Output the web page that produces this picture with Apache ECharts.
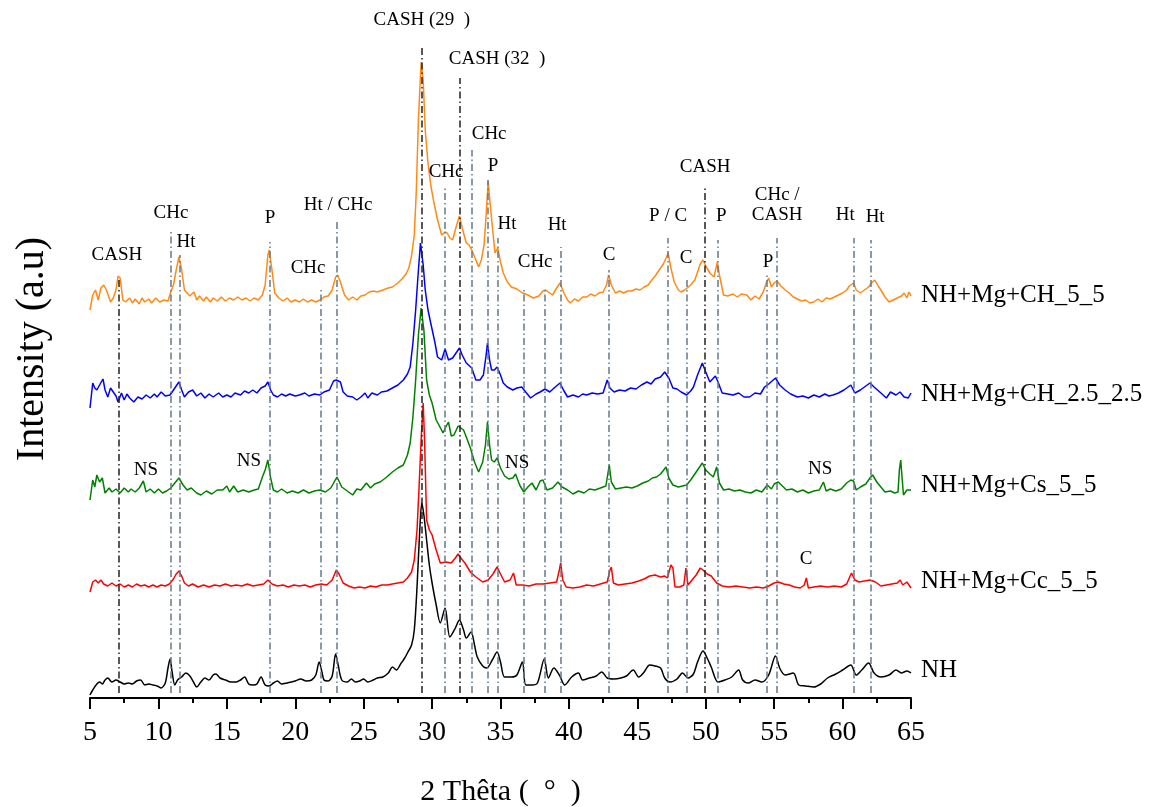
<!DOCTYPE html>
<html><head><meta charset="utf-8">
<script src="https://cdn.jsdelivr.net/npm/echarts@6/dist/echarts.min.js"></script>
<style>html,body{margin:0;padding:0;background:#fff}#c{width:1150px;height:807px}</style>
</head><body><div id="c"></div>
<script>
// ---- DATA (2θ, stacked intensity in a.u.) ----
const seriesNames = ['NH+Mg+CH_5_5', 'NH+Mg+CH_2.5_2.5', 'NH+Mg+Cs_5_5', 'NH+Mg+Cc_5_5', 'NH'];
const seriesColors = ['#ff8a14', '#0000ff', '#008000', '#ff0000', '#000000'];

const ch55 = [[5.0,388],[5.2,403],[5.4,408],[5.6,398],[5.8,410],[6.0,413],[6.2,408],[6.5,396],[6.7,400],[6.9,408],[7.05,422],[7.2,420],[7.4,398],[7.6,396],[7.9,400],[8.1,395],[8.3,399],[8.6,394],[8.8,400],[9.0,396],[9.3,399],[9.5,395],[9.8,400],[10.1,396],[10.4,398],[10.7,397],[10.9,406],[11.1,413],[11.3,428],[11.5,441],[11.7,428],[11.9,408],[12.1,405],[12.3,402],[12.6,406],[12.8,398],[13.0,402],[13.3,397],[13.5,401],[13.8,396],[14.0,400],[14.3,397],[14.6,401],[14.9,397],[15.2,400],[15.5,398],[15.8,401],[16.1,398],[16.4,400],[16.7,397],[17.0,400],[17.3,398],[17.6,403],[17.8,413],[18.0,443],[18.1,448],[18.3,428],[18.5,405],[18.8,400],[19.1,397],[19.4,400],[19.7,396],[20.0,398],[20.3,396],[20.6,399],[20.9,396],[21.2,398],[21.5,396],[21.8,398],[22.1,401],[22.4,402],[22.7,408],[22.95,421],[23.1,423],[23.3,416],[23.6,403],[23.9,398],[24.2,401],[24.5,398],[24.8,402],[25.1,403],[25.4,406],[25.7,407],[26.0,406],[26.4,408],[26.8,410],[27.1,411],[27.5,415],[27.8,419],[28.1,424],[28.3,430],[28.5,442],[28.7,463],[28.85,508],[29.0,578],[29.2,636],[29.35,618],[29.5,568],[29.7,535],[29.9,513],[30.1,498],[30.4,478],[30.7,463],[30.95,466],[31.1,465],[31.3,460],[31.5,458],[31.8,473],[32.0,482],[32.2,470],[32.5,455],[32.7,453],[32.9,448],[33.2,438],[33.4,431],[33.6,438],[33.8,453],[33.95,483],[34.1,517],[34.25,493],[34.45,465],[34.6,445],[34.8,450],[35.0,436],[35.2,425],[35.5,416],[35.8,411],[36.2,409],[36.6,405],[37.0,403],[37.4,400],[37.8,402],[38.1,407],[38.3,408],[38.6,405],[38.8,403],[39.1,410],[39.35,415],[39.6,406],[39.9,398],[40.1,395],[40.4,399],[40.7,397],[41.0,401],[41.3,401],[41.6,404],[41.9,402],[42.2,405],[42.5,406],[42.75,413],[42.9,423],[43.1,413],[43.4,405],[43.7,407],[44.0,405],[44.3,407],[44.6,407],[44.9,409],[45.2,408],[45.5,411],[45.8,413],[46.0,417],[46.3,422],[46.6,428],[46.9,434],[47.1,440],[47.25,445],[47.45,430],[47.7,416],[48.0,408],[48.2,406],[48.45,408],[48.65,410],[48.9,413],[49.2,418],[49.4,426],[49.6,434],[49.8,438],[50.0,432],[50.3,425],[50.6,421],[50.85,436],[51.0,423],[51.3,403],[51.6,402],[52.0,404],[52.3,401],[52.6,404],[53.0,403],[53.3,398],[53.6,402],[53.9,399],[54.2,406],[54.45,416],[54.6,420],[54.8,411],[55.0,415],[55.2,417],[55.5,412],[55.8,408],[56.1,405],[56.4,401],[56.7,399],[57.0,397],[57.3,398],[57.6,395],[57.9,396],[58.2,399],[58.5,396],[58.8,400],[59.1,399],[59.4,401],[59.7,403],[60.0,405],[60.3,408],[60.5,412],[60.8,415],[61.0,408],[61.3,405],[61.6,408],[61.9,411],[62.1,415],[62.35,418],[62.6,412],[62.8,408],[63.1,401],[63.4,396],[63.7,398],[64.0,400],[64.3,402],[64.5,405],[64.7,400],[64.85,406],[65.0,402]];

const ch2525 = [[5.0,290],[5.2,315],[5.35,310],[5.5,308],[5.7,313],[5.95,319],[6.1,308],[6.3,301],[6.5,310],[6.7,306],[6.9,302],[7.05,296],[7.3,305],[7.5,298],[7.7,304],[7.9,300],[8.2,296],[8.5,301],[8.8,299],[9.1,303],[9.4,300],[9.7,304],[9.9,301],[10.2,306],[10.5,302],[10.85,303],[11.1,308],[11.35,313],[11.5,316],[11.7,308],[11.9,301],[12.2,306],[12.5,308],[12.8,302],[13.1,305],[13.4,300],[13.7,304],[14.0,301],[14.4,305],[14.7,301],[15.0,303],[15.3,301],[15.6,305],[16.0,303],[16.3,307],[16.6,305],[16.9,308],[17.2,305],[17.5,310],[17.8,312],[18.0,316],[18.2,308],[18.4,303],[18.7,301],[19.0,304],[19.3,302],[19.6,304],[20.0,302],[20.3,303],[20.7,305],[21.0,302],[21.4,304],[21.8,303],[22.1,306],[22.5,308],[22.8,317],[23.0,318],[23.3,316],[23.5,306],[23.8,302],[24.2,301],[24.5,298],[24.8,301],[25.1,305],[25.3,300],[25.6,305],[26.0,303],[26.3,306],[26.7,307],[27.1,310],[27.5,313],[27.9,318],[28.2,324],[28.4,331],[28.6,355],[28.8,388],[28.95,418],[29.15,455],[29.35,433],[29.5,408],[29.7,388],[29.9,375],[30.2,356],[30.4,341],[30.7,338],[30.95,349],[31.2,338],[31.5,340],[31.8,346],[32.0,350],[32.2,343],[32.5,335],[32.9,330],[33.2,318],[33.5,318],[33.75,323],[33.95,343],[34.05,355],[34.2,338],[34.35,328],[34.55,328],[34.75,331],[35.0,323],[35.2,315],[35.5,311],[35.9,308],[36.2,310],[36.55,311],[36.9,305],[37.2,300],[37.6,304],[37.9,306],[38.25,309],[38.6,306],[39.0,311],[39.35,315],[39.6,308],[39.9,301],[40.3,303],[40.7,301],[41.0,304],[41.3,303],[41.7,305],[42.1,304],[42.5,305],[42.8,318],[43.0,310],[43.3,306],[43.7,308],[44.1,307],[44.5,310],[44.9,309],[45.3,313],[45.7,316],[46.0,314],[46.3,319],[46.7,321],[47.0,326],[47.3,320],[47.6,310],[47.9,309],[48.2,306],[48.6,303],[48.9,307],[49.1,311],[49.4,323],[49.75,335],[50.0,326],[50.3,316],[50.7,322],[50.9,316],[51.2,305],[51.6,304],[52.0,303],[52.4,305],[52.8,301],[53.2,301],[53.6,305],[54.0,304],[54.3,311],[54.6,314],[55.1,320],[55.4,313],[55.8,308],[56.2,304],[56.7,301],[57.1,302],[57.5,300],[57.9,303],[58.3,301],[58.7,304],[59.0,302],[59.3,303],[59.7,305],[60.1,308],[60.6,313],[60.9,305],[61.3,308],[61.6,311],[62.0,315],[62.3,311],[62.8,305],[63.2,300],[63.5,306],[63.9,303],[64.2,306],[64.5,301],[64.8,300],[65.0,305]];

const cs55 = [[5.0,198],[5.2,218],[5.35,211],[5.5,223],[5.7,216],[5.9,220],[6.1,205],[6.4,210],[6.6,206],[6.9,209],[7.2,205],[7.5,210],[7.8,206],[8.0,209],[8.3,206],[8.6,210],[8.9,217],[9.1,206],[9.4,209],[9.7,205],[10.0,209],[10.3,205],[10.6,207],[10.9,210],[11.2,215],[11.5,220],[11.8,213],[12.1,208],[12.4,210],[12.8,205],[13.1,203],[13.5,207],[13.9,204],[14.3,208],[14.7,208],[15.0,212],[15.2,206],[15.5,212],[15.8,206],[16.2,208],[16.6,206],[17.0,208],[17.3,209],[17.6,221],[17.8,228],[18.0,238],[18.2,220],[18.4,208],[18.7,206],[19.0,209],[19.4,205],[19.8,207],[20.2,205],[20.6,208],[21.0,205],[21.4,207],[21.8,208],[22.2,206],[22.6,210],[23.05,221],[23.4,211],[23.8,207],[24.2,203],[24.5,209],[24.8,208],[25.2,215],[25.5,210],[25.8,214],[26.2,216],[26.6,220],[27.1,226],[27.5,230],[27.9,233],[28.2,243],[28.4,255],[28.6,281],[28.8,318],[29.0,363],[29.2,390],[29.4,368],[29.6,318],[29.8,303],[30.0,295],[30.3,278],[30.5,273],[30.8,265],[31.0,271],[31.2,276],[31.4,262],[31.6,263],[31.9,272],[32.0,273],[32.3,268],[32.5,261],[32.8,250],[33.1,236],[33.4,226],[33.7,236],[33.9,253],[34.05,276],[34.2,253],[34.35,238],[34.55,236],[34.75,240],[35.0,230],[35.3,222],[35.6,219],[35.9,220],[36.1,224],[36.4,213],[36.7,206],[37.0,211],[37.3,215],[37.6,208],[37.9,217],[38.1,218],[38.4,208],[38.8,210],[39.2,216],[39.5,211],[39.9,208],[40.3,204],[40.7,207],[41.1,205],[41.5,209],[41.9,208],[42.3,210],[42.7,212],[42.95,233],[43.1,216],[43.4,209],[43.8,210],[44.2,211],[44.6,210],[45.0,212],[45.4,215],[45.8,217],[46.1,220],[46.4,221],[46.7,224],[47.1,231],[47.3,220],[47.6,213],[48.0,211],[48.3,212],[48.6,213],[48.9,218],[49.2,224],[49.5,230],[49.75,235],[50.0,228],[50.3,224],[50.55,221],[50.8,231],[51.0,215],[51.3,208],[51.7,209],[52.1,207],[52.5,208],[52.9,206],[53.3,205],[53.7,208],[54.1,206],[54.5,213],[54.8,209],[55.0,214],[55.3,216],[55.6,212],[55.9,208],[56.3,209],[56.7,206],[57.1,208],[57.5,205],[57.9,207],[58.3,208],[58.6,216],[58.8,207],[59.1,209],[59.5,207],[59.9,209],[60.3,215],[60.6,218],[60.8,217],[61.0,208],[61.3,211],[61.7,214],[62.0,220],[62.2,223],[62.5,216],[62.8,211],[63.1,206],[63.5,207],[63.8,205],[64.05,206],[64.15,228],[64.25,238],[64.35,220],[64.45,203],[64.7,208],[65.0,208]];

const cc55 = [[5.0,106],[5.2,116],[5.4,118],[5.6,115],[5.8,118],[6.0,114],[6.3,112],[6.6,115],[6.9,112],[7.2,114],[7.5,111],[7.8,113],[8.1,111],[8.4,114],[8.7,112],[9.0,113],[9.3,111],[9.6,113],[9.9,111],[10.2,113],[10.5,112],[10.8,114],[11.1,119],[11.3,124],[11.5,127],[11.7,122],[11.9,115],[12.2,112],[12.5,114],[12.9,111],[13.3,113],[13.7,111],[14.1,113],[14.5,112],[14.9,114],[15.3,112],[15.7,113],[16.1,112],[16.5,114],[16.9,112],[17.3,113],[17.7,114],[18.0,118],[18.3,114],[18.7,112],[19.1,113],[19.5,111],[19.9,113],[20.3,112],[20.7,113],[21.1,111],[21.5,113],[21.9,114],[22.3,113],[22.7,118],[23.0,128],[23.2,124],[23.5,115],[23.9,112],[24.3,110],[24.7,111],[25.1,110],[25.5,112],[25.9,111],[26.3,113],[26.7,113],[27.1,114],[27.5,115],[27.9,116],[28.2,120],[28.5,126],[28.7,138],[28.9,168],[29.05,211],[29.2,258],[29.35,295],[29.45,258],[29.6,178],[29.8,168],[30.0,163],[30.3,148],[30.6,135],[31.0,136],[31.4,135],[31.7,140],[31.9,144],[32.1,140],[32.4,135],[32.8,126],[33.2,121],[33.7,116],[34.1,118],[34.45,124],[34.75,131],[35.0,124],[35.3,116],[35.7,118],[35.95,125],[36.15,113],[36.6,113],[37.1,112],[37.6,114],[38.1,114],[38.6,115],[39.1,116],[39.3,128],[39.4,135],[39.55,118],[39.8,111],[40.3,110],[40.8,111],[41.3,113],[41.8,112],[42.3,114],[42.8,116],[43.0,128],[43.1,131],[43.25,115],[43.6,113],[44.1,114],[44.6,115],[45.1,117],[45.5,119],[45.9,122],[46.3,123],[46.7,121],[47.0,122],[47.2,120],[47.45,133],[47.6,130],[47.75,111],[48.1,111],[48.4,113],[48.55,130],[48.7,113],[49.0,118],[49.3,123],[49.6,130],[49.8,128],[50.1,124],[50.4,122],[50.8,115],[51.2,112],[51.7,111],[52.2,112],[52.7,111],[53.2,110],[53.7,111],[54.2,110],[54.6,112],[55.0,115],[55.3,116],[55.7,114],[56.1,113],[56.5,111],[56.9,110],[57.2,113],[57.35,120],[57.5,110],[57.9,111],[58.4,112],[58.9,111],[59.4,112],[59.9,111],[60.3,114],[60.65,125],[60.9,118],[61.2,116],[61.6,117],[62.0,118],[62.4,116],[62.8,112],[63.2,113],[63.6,114],[64.0,115],[64.2,118],[64.4,113],[64.7,116],[65.0,110]];

const nh = [[5.0,3],[5.2,8],[5.5,14],[5.7,16],[5.9,14],[6.1,18],[6.3,20],[6.6,16],[6.9,18],[7.2,16],[7.5,14],[7.8,15],[8.1,14],[8.4,17],[8.7,18],[9.0,13],[9.3,14],[9.6,13],[9.9,12],[10.2,10],[10.5,15],[10.7,30],[10.85,39],[11.0,26],[11.2,13],[11.4,18],[11.7,21],[12.0,25],[12.3,22],[12.6,15],[12.8,11],[13.1,16],[13.4,20],[13.7,18],[14.0,23],[14.2,24],[14.5,20],[14.9,18],[15.3,16],[15.7,16],[16.0,18],[16.3,21],[16.6,14],[16.9,13],[17.2,14],[17.5,21],[17.8,13],[18.1,12],[18.4,15],[18.7,17],[19.0,14],[19.4,15],[19.7,16],[20.0,17],[20.4,19],[20.8,17],[21.2,18],[21.5,23],[21.75,36],[21.95,26],[22.1,18],[22.4,17],[22.7,22],[22.95,44],[23.15,32],[23.4,18],[23.8,16],[24.1,19],[24.4,16],[24.7,17],[25.0,19],[25.3,16],[25.7,18],[26.0,20],[26.4,21],[26.8,25],[27.1,31],[27.4,28],[27.7,34],[28.0,40],[28.2,45],[28.5,53],[28.7,68],[28.9,111],[29.1,168],[29.25,195],[29.4,183],[29.6,158],[29.8,133],[30.0,115],[30.3,93],[30.6,75],[30.95,90],[31.3,61],[31.7,70],[32.0,78],[32.3,68],[32.5,60],[32.85,66],[33.1,53],[33.3,41],[33.7,32],[34.0,30],[34.4,38],[34.75,46],[35.0,36],[35.3,21],[35.8,21],[36.2,23],[36.6,36],[36.85,13],[37.3,13],[37.7,15],[38.2,39],[38.5,20],[38.9,30],[39.3,23],[39.7,13],[40.2,21],[40.7,25],[41.0,18],[41.5,20],[42.0,22],[42.4,26],[42.8,20],[43.3,19],[43.8,20],[44.2,22],[44.7,28],[45.1,21],[45.5,26],[45.9,33],[46.3,32],[46.7,30],[47.0,20],[47.4,16],[47.9,19],[48.3,25],[48.7,20],[49.1,24],[49.4,36],[49.8,47],[50.1,40],[50.4,31],[50.9,16],[51.4,18],[51.9,21],[52.4,28],[52.7,18],[53.1,15],[53.6,18],[54.1,16],[54.6,23],[55.1,42],[55.4,30],[55.8,23],[56.4,25],[56.8,13],[57.3,12],[57.9,11],[58.4,14],[58.9,20],[59.5,24],[60.0,28],[60.6,33],[61.0,23],[61.4,28],[61.9,35],[62.3,25],[62.8,21],[63.4,23],[63.9,28],[64.3,25],[64.7,27],[65.0,25]];

const seriesData = [ch55, ch2525, cs55, cc55, nh];
const labelNudge = [-1, 1, -5, -7, -3];

// reference (phase) lines: 2θ position, top intensity, dark flag
const refPos  = [7.1, 10.9, 11.55, 18.15, 21.85, 23.05, 29.25, 30.95, 32.05, 32.9, 34.1, 34.8, 36.7, 38.2, 39.4, 42.9, 47.2, 48.6, 49.95, 50.85, 54.45, 55.2, 60.85, 62.05];
const refTop  = [421, 466, 443, 456, 410, 476, 650, 510, 620, 548, 518, 460, 410, 410, 451, 428, 460, 418, 510, 458, 425, 460, 460, 458];
const refDark = [1, 0, 0, 0, 0, 0, 1, 0, 1, 0, 0, 0, 0, 0, 0, 0, 0, 0, 1, 0, 0, 0, 0, 0];
const refBottom = 5;

// phase annotations: [2θ, height, text]
const annotations = [
  [29.25, 678, 'CASH (29  )'], [34.75, 639, 'CASH (32  )'], [34.17, 564, 'CHc'], [31.02, 526, 'CHc'],
  [34.46, 532, 'P'], [35.48, 474, 'Ht'], [37.53, 436, 'CHc'], [39.14, 473, 'Ht'], [42.94, 443, 'C'],
  [47.25, 482, 'P / C'], [48.57, 440, 'C'], [49.96, 531, 'CASH'], [51.13, 482, 'P'],
  [55.22, 493, 'CHc /\nCASH'], [54.56, 436, 'P'], [60.19, 483, 'Ht'], [62.38, 481, 'Ht'],
  [6.97, 443, 'CASH'], [10.92, 485, 'CHc'], [12.02, 456, 'Ht'], [18.16, 480, 'P'], [20.94, 430, 'CHc'],
  [23.13, 493, 'Ht / CHc'], [9.09, 228, 'NS'], [16.62, 237, 'NS'], [36.21, 235, 'NS'], [58.36, 229, 'NS'],
  [57.34, 139, 'C']
];

const xTicks = {min: 5, max: 65, interval: 5};

// ---- CHART ----
const FONT = 'Liberation Serif';
const chart = echarts.init(document.getElementById('c'), null, {renderer: 'canvas'});

const lineSeries = seriesNames.map((name, i) => ({
  name, type: 'line', data: seriesData[i], showSymbol: false, symbol: 'none',
  smooth: i === 4 ? 0.3 : false,
  lineStyle: {color: seriesColors[i], width: 1.5}, itemStyle: {color: seriesColors[i]},
  z: 3, silent: true,
  endLabel: {show: true, formatter: name, color: '#000', fontFamily: FONT, fontSize: 25, distance: 10, offset: [0, labelNudge[i]]}
}));

const refSeries = {
  type: 'line', data: [], silent: true, z: 2,
  markLine: {
    silent: true, symbol: ['none', 'none'], animation: false, label: {show: false},
    data: refPos.map((x, i) => [
      {coord: [x, refBottom], lineStyle: {color: refDark[i] ? '#222' : '#66788a', width: 1.5, type: [7, 3, 1.5, 3]}},
      {coord: [x, refTop[i]]}
    ])
  }
};

const annSeries = {
  type: 'scatter', data: annotations, symbolSize: 0, itemStyle: {color: '#000', opacity: 1}, silent: true, z: 5,
  label: {show: true, position: 'inside', formatter: p => p.data[2], color: '#000', opacity: 1,
          textBorderWidth: 0, textShadowBlur: 0, fontFamily: FONT, fontSize: 19, lineHeight: 20}
};

chart.setOption({
  animation: false,
  backgroundColor: '#fff',
  grid: {left: 90, right: 239, top: 0, bottom: 109, containLabel: false, outerBoundsMode: 'none'},
  xAxis: {
    type: 'value', min: xTicks.min, max: xTicks.max, interval: xTicks.interval,
    name: '2 Thêta (  °  )', nameLocation: 'middle', nameGap: 79,
    nameTextStyle: {fontFamily: FONT, fontSize: 30, color: '#000'},
    axisLine: {show: true, onZero: false, lineStyle: {color: '#000', width: 2}},
    axisTick: {show: true, inside: false, length: 11, lineStyle: {color: '#000', width: 2}},
    minorTick: {show: true, splitNumber: 2, length: 5, lineStyle: {color: '#000', width: 2}},
    axisLabel: {fontFamily: FONT, fontSize: 28, color: '#000', margin: 21},
    splitLine: {show: false}
  },
  yAxis: {
    type: 'value', min: 0, max: 698,
    name: 'Intensity (a.u)', nameLocation: 'middle', nameGap: 38, nameRotate: 90,
    nameTextStyle: {fontFamily: FONT, fontSize: 40, color: '#000'},
    axisLine: {show: false}, axisTick: {show: false}, axisLabel: {show: false}, splitLine: {show: false}
  },
  series: [refSeries, ...lineSeries, annSeries]
});
</script>
</body></html>
